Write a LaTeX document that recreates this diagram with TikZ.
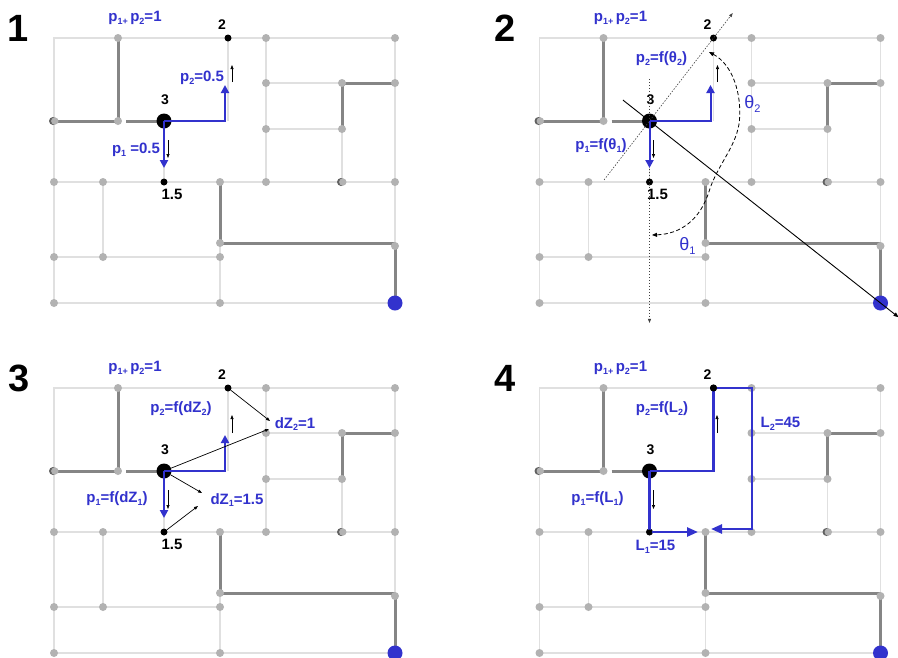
\documentclass[tikz,border=0pt]{standalone}
\usepackage{fontspec}
\setmainfont{Liberation Sans}
\usetikzlibrary{arrows.meta,calc}
\definecolor{myblue}{RGB}{50,50,205}
\newcommand\dsub[1]{\raisebox{-0.35ex}{\fontsize{9}{9}\selectfont #1}}
\newcommand\tsub[1]{\raisebox{-0.35ex}{\fontsize{11}{11}\selectfont #1}}
\tikzset{
  lite/.style={draw=black!12, line width=1.5pt},
  dark/.style={draw=black!48, line width=3pt},
  gdot/.style={circle, fill=black!30, inner sep=0pt, minimum size=8pt},
  bigdot/.style={circle, fill=black, inner sep=0pt, minimum size=15pt},
  smalldot/.style={circle, fill=black, inner sep=0pt, minimum size=7pt},
  bluedot/.style={circle, fill=myblue, inner sep=0pt, minimum size=15pt},
  lbl/.style={font=\fontsize{15}{18}\selectfont\bfseries, text=myblue, inner sep=0pt},
  thl/.style={font=\fontsize{18}{20}\selectfont, text=myblue, inner sep=0pt},
  num/.style={font=\fontsize{14}{16}\selectfont\bfseries, inner sep=0pt},
  bignum/.style={font=\fontsize{38}{40}\selectfont\bfseries, inner sep=0pt},
  tarr/.style={-{Triangle[length=4pt,width=3pt]}, line width=0.7pt},
  barr/.style={-{Triangle[length=8pt,width=8pt]}, draw=myblue, line width=2pt},
  bpath/.style={draw=myblue, line width=2.5pt, -{Triangle[length=11pt,width=9pt]}},
  dotl/.style={draw=black!75, line width=0.6pt, dash pattern=on 1.5pt off 1.5pt},
}
\newcommand\basegrid[1]{%
  \draw[lite] (54,38) rectangle (395,303);
  \draw[lite] (54,182) -- (395,182);
  \draw[lite] (266,38) -- (266,182);
  \draw[lite] (266,83) -- (342,83);
  \draw[lite] (266,129) -- (342,129);
  \draw[lite] (342,129) -- (342,182);
  \draw[lite] (103,182) -- (103,257);
  \draw[lite] (54,257) -- (220,257);
  \draw[lite] (220,243) -- (220,303);
  \draw[lite] (228,38) -- (228,121);
  \draw[lite] (164,121) -- (164,182);
  \draw[dark] (118,38) -- (118,121);
  \draw[dark] (54,121) -- (118,121);
  \draw[dark] (126,121) -- (164,121);
  \draw[dark] (395,83) -- (342,83) -- (342,129);
  \draw[dark] (220,182) -- (220,243) -- (395,243);
  \draw[dark] (395,246) -- (395,303);
  \foreach \p in {(118,38),(266,38),(395,38),(266,83),(342,83),(395,83),(266,129),(342,129),
    (54,182),(103,182),(220,182),(266,182),(395,182),(220,243),(395,246),(54,257),(103,257),
    (220,257),(54,303),(220,303),(118,121)} {\node[gdot] at \p {};}
  \fill[black!62] (53,121) circle (4pt);
  \fill[black!30] (54.8,121) circle (3.7pt);
  \fill[black!62] (341,182) circle (4pt);
  \fill[black!30] (342.8,182) circle (3.7pt);
  \node[bigdot] (#13) at (164,121) {};
  \node[smalldot] (#12) at (228,38) {};
  \node[smalldot] (#115) at (164,182) {};
  \node[bluedot] (#1end) at (395,303) {};
  \node[lbl] at (135,18) {p\dsub{1+}\,p\dsub{2}=1};
  \node[num] at (222,25) {2};
  \node[num] at (165,100) {3};
}
\begin{document}
\begin{tikzpicture}[x=1pt,y=-1pt]
\useasboundingbox (0,0) rectangle (898,657);
\fill[white] (0,0) rectangle (898,657);

% ---------- panel 1 ----------
\begin{scope}
  \basegrid{a}
  \coordinate (a2c) at (225,121);
  \draw[barr] (a3.center) -- (a2c) -- (225,85);
  \draw[barr] (a3.center) -- (164,168);
  \draw[tarr] (232,82) -- (232,65);
  \draw[tarr] (168,140) -- (168,158);
  \node[lbl] at (202,78) {p\dsub{2}=0.5};
  \node[lbl] at (136,150) {p\dsub{1} =0.5};
  \node[num, font=\fontsize{15}{18}\selectfont\bfseries] at (172,194) {1.5};
\end{scope}

% ---------- panel 2 ----------
\begin{scope}[shift={(485.5,0)}]
  \basegrid{b}
  \draw[dotl, -{Triangle[length=4pt,width=3pt]}] ($(b3)!-0.69!(b15)$) -- ($(b3)!3.31!(b15)$);
  \draw[dotl, -{Triangle[length=4pt,width=3pt]}] ($(b3)!-0.71!(b2)$) -- ($(b3)!1.30!(b2)$);
  \draw[line width=0.9pt, -{Triangle[length=5pt,width=4pt]}] ($(b3)!-0.115!(bend)$) -- ($(b3)!1.078!(bend)$);
  \draw[barr] (b3.center) -- (225,121) -- (225,85);
  \draw[barr] (b3.center) -- (164,168);
  \draw[tarr] (232,82) -- (232,65);
  \draw[tarr] (168,140) -- (168,158);
  \coordinate (th2) at (223.5,52);
  \coordinate (th1) at (166.5,235);
  \draw[line width=0.8pt, dash pattern=on 4pt off 2.5pt, {Triangle[length=5pt,width=4pt]}-{Triangle[length=5pt,width=4pt]}]
    (th2) .. controls (248,65) and (256,95) .. (254,120)
          .. controls (252,145) and (232,165) .. (224,190)
          .. controls (215,220) and (195,234) .. (th1);
  \node[lbl] at (176,59) {p\dsub{2}=f(θ\dsub{2})};
  \node[lbl] at (115.5,146) {p\dsub{1}=f(θ\dsub{1})};
  \node[thl] at (267,104) {θ\tsub{2}};
  \node[thl] at (202,246) {θ\tsub{1}};
  \node[num, font=\fontsize{15}{18}\selectfont\bfseries] at (172,194) {1.5};
\end{scope}

% ---------- panel 3 ----------
\begin{scope}[shift={(0,350)}]
  \basegrid{c}
  \draw[barr] (c3.center) -- (225,121) -- (225,85);
  \draw[barr] (c3.center) -- (164,168);
  \draw[tarr] (232,83) -- (232,65);
  \draw[tarr] (168,140) -- (168,159);
  \coordinate (cz2) at (270,71);
  \coordinate (cz2b) at (269,79);
  \coordinate (cz1) at (202,143);
  \coordinate (cz1b) at (198,156);
  \draw[tarr] (c2) -- (cz2);
  \draw[tarr] (c3) -- (cz2b);
  \draw[tarr] (c3) -- (cz1);
  \draw[tarr] (c15) -- (cz1b);
  \node[lbl] at (295,74) {dZ\dsub{2}=1};
  \node[lbl] at (237,150) {dZ\dsub{1}=1.5};
  \node[lbl] at (181,59) {p\dsub{2}=f(dZ\dsub{2})};
  \node[lbl] at (117,149) {p\dsub{1}=f(dZ\dsub{1})};
  \node[num, font=\fontsize{15}{18}\selectfont\bfseries] at (172,194) {1.5};
\end{scope}

% ---------- panel 4 ----------
\begin{scope}[shift={(485.5,350)}]
  \basegrid{d}
  \draw[bpath] (d3.center) -| (d2.center) -- (266.5,38) -- (266.5,179) -- (225.5,179);
  \draw[bpath] (d3.center) -- (d15.center) -- (212.5,182);
  \node[smalldot] at (d2) {};
  \node[smalldot, minimum size=5pt] at (d15) {};
  \draw[tarr] (231.5,83) -- (231.5,65);
  \draw[tarr] (168,140) -- (168,159);
  \node[lbl] at (176.5,59) {p\dsub{2}=f(L\dsub{2})};
  \node[lbl] at (112,149) {p\dsub{1}=f(L\dsub{1})};
  \node[lbl] at (295,74) {L\dsub{2}=45};
  \node[lbl] at (170,197) {L\dsub{1}=15};
\end{scope}

\node[bignum] (n1) at (18,28) {1};
\node[bignum] (n2) at (505,28) {2};
\node[bignum] (n3) at (19,378) {3};
\node[bignum] (n4) at (505,378) {4};
\end{tikzpicture}
\end{document}
